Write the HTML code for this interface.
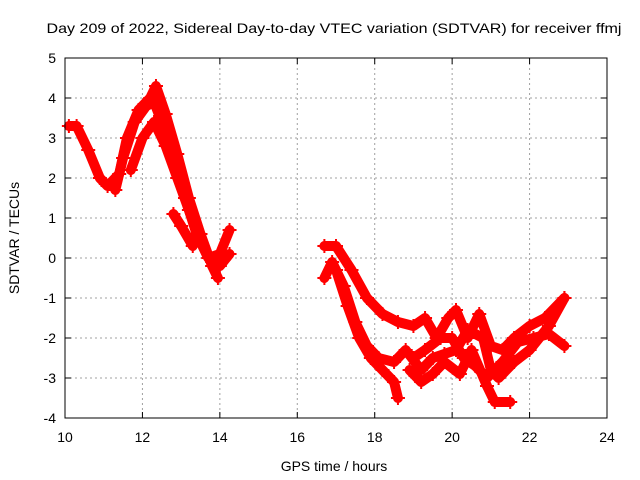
<!DOCTYPE html>
<html><head><meta charset="utf-8"><style>
body{margin:0;background:#fff}
svg{display:block;font-family:"Liberation Sans",sans-serif}
</style></head><body>
<svg id="chart" width="640" height="480" viewBox="0 0 640 480">
<rect width="640" height="480" fill="#fff"/>
<text x="334" y="33" font-size="14" text-anchor="middle" textLength="575" lengthAdjust="spacingAndGlyphs">Day 209 of 2022, Sidereal Day-to-day VTEC variation (SDTVAR) for receiver ffmj</text>
<text x="334" y="471" font-size="14" text-anchor="middle">GPS time / hours</text>
<text transform="translate(19,238) rotate(-90)" font-size="14" text-anchor="middle">SDTVAR / TECUs</text>
<g id="grid"></g>
<g id="ticks"></g>
<g id="series"></g>
<rect x="65" y="58" width="542" height="360" fill="none" stroke="#000" stroke-width="1"/>
</svg>
<script>
const xTicks=[10,12,14,16,18,20,22,24];
const yTicks=[-4,-3,-2,-1,0,1,2,3,4,5];
const trackA=[[10.1,3.3],[10.3,3.3],[10.6,2.7],[10.9,2.0],[11.1,1.8],[11.4,2.1],[11.6,3.0],[11.9,3.7],[12.2,4.0],[12.35,4.3],[12.6,3.6],[12.9,2.6],[13.2,1.5],[13.5,0.6],[13.8,-0.2],[13.95,-0.5]];
const trackB=[[11.3,1.7],[11.5,2.5],[11.8,3.4],[12.1,3.8],[12.3,3.9],[12.5,3.4],[12.8,2.6],[13.1,1.5],[13.4,0.6],[13.7,0.0],[14.0,0.1],[14.25,0.7]];
const trackC=[[11.7,2.2],[12.0,3.0],[12.3,3.4],[12.6,2.8],[12.9,2.0],[13.2,1.2],[13.5,0.4],[13.8,-0.1],[14.0,-0.2],[14.25,0.1]];
const trackC2=[[12.8,1.1],[13.0,0.8],[13.3,0.3]];
const trackD=[[16.7,0.3],[17.0,0.3],[17.4,-0.3],[17.8,-1.0],[18.2,-1.4],[18.6,-1.6],[19.0,-1.7],[19.3,-1.5],[19.6,-2.0],[19.9,-1.5],[20.1,-1.3],[20.4,-2.0],[20.7,-1.4],[21.0,-2.2],[21.3,-2.3],[21.6,-2.0],[22.0,-1.7],[22.4,-1.5],[22.9,-1.0]];
const trackE=[[16.7,-0.5],[16.9,-0.1],[17.2,-0.7],[17.5,-1.6],[17.8,-2.2],[18.1,-2.5],[18.5,-2.6],[18.8,-2.3],[19.2,-2.8],[19.5,-2.5],[19.8,-2.4],[20.1,-2.3],[20.4,-1.8],[20.8,-2.0],[21.0,-2.8],[21.2,-3.0],[21.6,-2.6],[22.0,-2.3],[22.5,-1.7],[22.9,-1.0]];
const trackF=[[17.0,-0.3],[17.3,-1.2],[17.6,-2.0],[17.9,-2.5],[18.2,-2.8],[18.5,-3.1],[18.6,-3.5]];
const trackG=[[18.9,-2.8],[19.2,-3.1],[19.5,-2.9],[19.8,-2.6],[20.2,-2.9],[20.5,-2.3],[20.9,-3.2],[21.1,-3.6],[21.5,-3.6]];
const trackH=[[19.0,-2.5],[19.3,-2.3],[19.7,-2.0],[20.0,-2.0],[20.3,-2.5],[20.6,-2.7],[20.9,-3.0],[21.3,-2.6],[21.7,-2.1],[22.1,-2.0],[22.5,-1.9],[22.9,-2.2]];
const tracks=[trackA,trackB,trackC,trackC2,trackD,trackE,trackF,trackG,trackH];
const NS="http://www.w3.org/2000/svg";
const X0=65,X1=607,Y0=418,Y1=58,xmin=10,xmax=24,ymin=-4,ymax=5;
function xs(t){return X0+(t-xmin)/(xmax-xmin)*(X1-X0);}
function ys(v){return Y0-(v-ymin)/(ymax-ymin)*(Y0-Y1);}
function mk(tag,attrs,parent){const e=document.createElementNS(NS,tag);for(const k in attrs)e.setAttribute(k,attrs[k]);parent.appendChild(e);return e;}
const grid=document.getElementById('grid'),ticks=document.getElementById('ticks'),series=document.getElementById('series');
xTicks.forEach(t=>{const x=xs(t);
 if(t>xmin&&t<xmax){const g=mk('line',{x1:x,x2:x,y1:Y1,y2:Y0,stroke:'#a0a0a0','stroke-dasharray':'2,3'},grid);
 
 }
 mk('line',{x1:x,x2:x,y1:Y0,y2:Y0-6,stroke:'#000'},ticks);
 mk('line',{x1:x,x2:x,y1:Y1,y2:Y1+6,stroke:'#000'},ticks);
 const l=mk('text',{x:x,y:Y0+24,'font-size':14,'text-anchor':'middle'},ticks);l.textContent=t;
 
 
});
yTicks.forEach(v=>{const y=ys(v);
 if(v>ymin&&v<ymax){const g=mk('line',{x1:X0,x2:X1,y1:y,y2:y,stroke:'#a0a0a0','stroke-dasharray':'2,3'},grid);
 
 }
 mk('line',{x1:X0,x2:X0+6,y1:y,y2:y,stroke:'#000'},ticks);
 mk('line',{x1:X1,x2:X1-6,y1:y,y2:y,stroke:'#000'},ticks);
 const l=mk('text',{x:X0-9,y:y+5,'font-size':14,'text-anchor':'end'},ticks);l.textContent=v;
 
 
});
tracks.forEach((tr,i)=>{
 const p=mk('polyline',{points:tr.map(d=>xs(d[0])+','+ys(d[1])).join(' '),fill:'none',stroke:'#ff0000','stroke-width':10,'stroke-linejoin':'round','stroke-linecap':'round'},series);
 
 
 tr.forEach(d=>{const x=xs(d[0]),y=ys(d[1]);
  const m=mk('path',{d:`M${x-7},${y}H${x+7}M${x},${y-7}V${y+7}`,stroke:'#ff0000','stroke-width':2},series);
  
  
 });
});
</script>
</body></html>
